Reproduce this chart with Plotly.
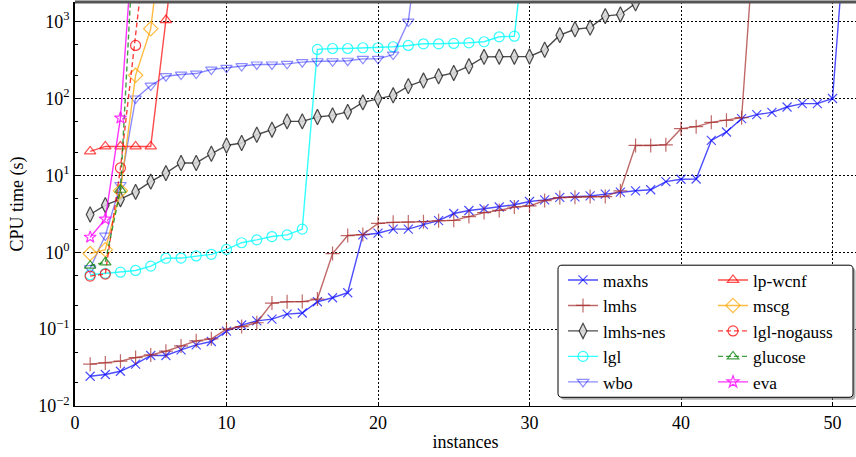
import plotly.graph_objects as go

# ---- data (CPU time in seconds per solved instance, sorted; last value = timeout sentinel) ----
TIMEOUT = 36000
maxhs = [0.0244, 0.0257, 0.0283, 0.035, 0.0454, 0.0454, 0.0537, 0.0624, 0.069, 0.094,
         0.113, 0.128, 0.135, 0.157, 0.162, 0.227, 0.256, 0.297, 1.68, 1.77,
         2.0, 2.0, 2.29, 2.58, 3.19, 3.49, 3.68, 3.88, 4.15, 4.57,
         4.8, 5.17, 5.25, 5.4, 5.7, 6.06, 6.3, 6.5, 8.3, 8.9,
         8.97, 28.5, 36.7, 54.7, 61.7, 66, 77.6, 85.8, 85.8, 100, TIMEOUT]
lmhs = [0.035, 0.0363, 0.0383, 0.0427, 0.0462, 0.0516, 0.0605, 0.0704, 0.0747, 0.1,
        0.108, 0.121, 0.218, 0.227, 0.228, 0.246, 0.96, 1.65, 1.70, 2.37,
        2.45, 2.47, 2.5, 2.57, 2.6, 2.91, 3.28, 3.5, 3.88, 4.0,
        4.7, 5.15, 5.2, 5.3, 5.3, 6.3, 24.5, 24.5, 25, 40.5,
        43, 49, 52, 56.3, TIMEOUT]
lmhs_nes = [3.1, 4.1, 4.9, 6.1, 8.3, 10.7, 14.5, 14.5, 19.1, 24.5,
            26.4, 33.8, 39.3, 50.4, 50.4, 57.5, 60.3, 67, 89, 100,
            110, 145, 171, 195, 215, 263, 348, 350, 350, 352,
            430, 667, 795, 835, 1180, 1240, 1730, TIMEOUT]
lgl = [0.51, 0.53, 0.55, 0.58, 0.66, 0.835, 0.84, 0.895, 0.94, 1.09,
       1.33, 1.45, 1.6, 1.68, 2.0, 435, 447, 447, 457, 457,
       471, 490, 515, 515, 520, 530, 547, 635, 646, TIMEOUT]
wbo = [0.62, 1.65, 7.5, 100, 147, 195, 205, 211, 238, 251,
       264, 277, 277, 282, 297, 305, 305, 310, 328, 328,
       373, 1000, TIMEOUT]
lp_wcnf = [20.5, 23.8, 23.8, 23.8, 23.8, 1047, TIMEOUT]
mscg = [0.96, 1.08, 6.3, 200, 810, TIMEOUT]
lgl_nogauss = [0.49, 0.52, 12.5, 490, TIMEOUT]
glucose = [0.67, 0.74, 6.5, TIMEOUT]
eva = [1.57, 2.7, 55.8, TIMEOUT]

x_ticks = [0, 10, 20, 30, 40, 50]
y_ticks = [0.01, 0.1, 1, 10, 100, 1000]
y_ticktext = ["10<sup>\u22122</sup>", "10<sup>\u22121</sup>", "10<sup>0</sup>",
              "10<sup>1</sup>", "10<sup>2</sup>", "10<sup>3</sup>"]

FONT = "Liberation Serif"

series = [
    # name, values, color, symbol, size, dash, legend, marker fill
    ("maxhs", maxhs, "rgba(0,0,255,0.7)", "x-thin-open", 9, "solid", "legend", None),
    ("lmhs", lmhs, "rgba(165,42,42,0.7)", "cross-thin-open", 10, "solid", "legend", None),
    ("lmhs-nes", lmhs_nes, "rgba(0,0,0,0.7)", "diamond-tall", 11, "solid", "legend", "rgba(215,215,215,0.9)"),
    ("lgl", lgl, "rgba(0,255,255,0.8)", "circle-open", 10, "solid", "legend", None),
    ("wbo", wbo, "rgba(0,0,255,0.45)", "triangle-down-open", 10, "solid", "legend", None),
    ("lp-wcnf", lp_wcnf, "rgba(255,0,0,0.7)", "triangle-up-open", 10, "solid", "legend2", None),
    ("mscg", mscg, "rgba(255,165,0,0.75)", "diamond-open", 11, "solid", "legend2", None),
    ("lgl-nogauss", lgl_nogauss, "rgba(255,0,0,0.75)", "circle-open", 10, "5px,3px", "legend2", None),
    ("glucose", glucose, "rgba(0,128,0,0.75)", "triangle-up-open", 10, "5px,3px", "legend2", None),
    ("eva", eva, "rgba(255,0,255,0.8)", "star-open", 9, "solid", "legend2", None),
]

fig = go.Figure()
for name, vals, color, sym, size, dash, leg, fill in series:
    xs = list(range(1, len(vals) + 1))
    marker = dict(symbol=sym, size=size, color=color if fill is None else fill,
                  line=dict(color=color, width=1.2))
    fig.add_trace(go.Scatter(
        x=xs, y=vals, mode="lines+markers", name=name, legend=leg,
        line=dict(color=color, width=1.4, dash=dash),
        marker=marker,
    ))

# legend frame (shadow + rounded box)
def rounded(x0, y0, x1, y1, rx, ry):
    return (f"M{x0+rx},{y0} L{x1-rx},{y0} Q{x1},{y0} {x1},{y0+ry} "
            f"L{x1},{y1-ry} Q{x1},{y1} {x1-rx},{y1} L{x0+rx},{y1} "
            f"Q{x0},{y1} {x0},{y1-ry} L{x0},{y0+ry} Q{x0},{y0} {x0+rx},{y0} Z")

W, H = 781.0, 403.7
bx0, bx1 = (558 - 75) / W, (853 - 75) / W
by0, by1 = 1 - (397 - 2) / H, 1 - (265 - 2) / H
rx, ry = 4 / W, 4 / H
sx, sy = 2.5 / W, 2.5 / H
fig.add_shape(type="path", xref="paper", yref="paper", layer="above",
              path=rounded(bx0 + sx, by0 - sy, bx1 + sx, by1 - sy, rx, ry),
              fillcolor="rgba(120,120,120,0.6)", line=dict(width=0))
fig.add_shape(type="path", xref="paper", yref="paper", layer="above",
              path=rounded(bx0, by0, bx1, by1, rx, ry),
              fillcolor="white", line=dict(color="black", width=1))
# top frame line
fig.add_shape(type="line", xref="paper", yref="paper", x0=0, x1=1, y0=1, y1=1,
              line=dict(color="#555555", width=3), layer="above")

legend_common = dict(bgcolor="rgba(0,0,0,0)", borderwidth=0,
                     font=dict(family=FONT, size=17.3, color="black"),
                     xanchor="left", yanchor="top", tracegroupgap=0,
                     itemwidth=30)
fig.update_layout(
    width=856, height=457,
    margin=dict(l=75, r=0, t=2, b=51),
    plot_bgcolor="white", paper_bgcolor="white",
    font=dict(family=FONT, size=17, color="black"),
    showlegend=True,
    legend=dict(x=(563 - 75) / W, y=by1 + 3 / H, **legend_common),
    legend2=dict(x=(713 - 75) / W, y=by1 + 3 / H, **legend_common),
    xaxis=dict(
        range=[0, 51.55], tickvals=x_ticks, ticks="inside", ticklen=4,
        tickcolor="black", showline=True, linecolor="black", linewidth=1,
        showgrid=True, gridcolor="black", gridwidth=1, griddash="2px,2px",
        zeroline=False, tickfont=dict(family=FONT, size=18),
        title=dict(text="instances", font=dict(family=FONT, size=18), standoff=3),
    ),
    yaxis=dict(
        type="log", range=[-2, 3.2553], tickvals=y_ticks, ticktext=y_ticktext,
        ticks="inside", ticklen=5, tickcolor="black",
        showline=True, linecolor="black", linewidth=1.5,
        showgrid=True, gridcolor="black", gridwidth=1, griddash="2px,2px",
        zeroline=False, tickfont=dict(family=FONT, size=18),
        minor=dict(ticks="inside", ticklen=3, tickcolor="black", showgrid=False),
        title=dict(text="CPU time (s)", font=dict(family=FONT, size=18), standoff=10),
    ),
)

fig.write_html("out.html")
